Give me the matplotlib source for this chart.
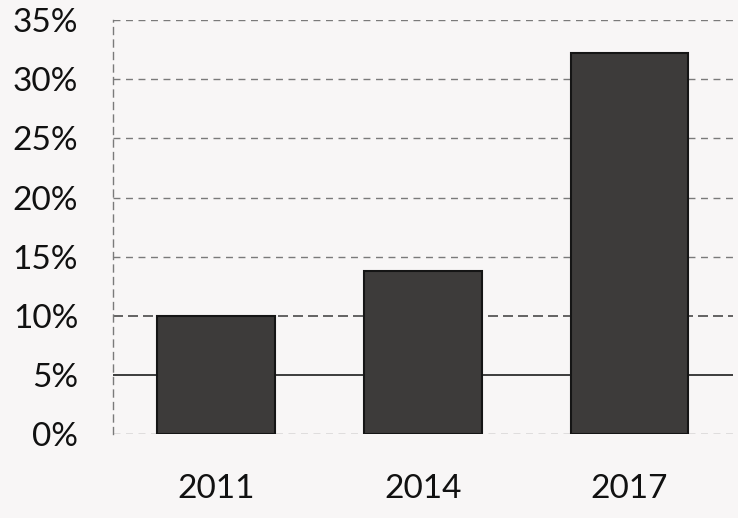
import numpy as np
import matplotlib
matplotlib.use("Agg")
import matplotlib.pyplot as plt
from matplotlib.ticker import FuncFormatter

# Data
years = ["2011", "2014", "2017"]
shares = [10.0, 13.8, 32.2]
y_ticks = [0, 5, 10, 15, 20, 25, 30, 35]

plt.rcParams['font.family'] = ['Lato', 'DejaVu Sans']

fig = plt.figure(figsize=(7.38, 5.18), dpi=100)
fig.patch.set_facecolor("#f8f6f6")
ax = fig.add_axes([0.153, 0.162, 0.84, 0.799])
ax.set_facecolor("#f8f6f6")

x = np.arange(len(years))

# Grid lines (dashed, 5% one solid and darker)
for t in y_ticks:
    if t == 5:
        ax.axhline(t, color="#2e2e2e", lw=1.3, ls="-", zorder=1)
    elif t == 10:
        ax.axhline(t, color="#4a4a4a", lw=1.2, ls=(0, (6, 3)), zorder=1)
    else:
        ax.axhline(t, color="#7a7a7a", lw=1.0, ls=(0, (5, 4)), zorder=1)

ax.bar(x, shares, width=0.57, color="#3d3b3a", edgecolor="#151515",
       linewidth=1.5, zorder=3)

ax.set_xlim(-0.5, 2.5)
ax.set_ylim(0, 35)
ax.set_yticks(y_ticks)
ax.yaxis.set_major_formatter(FuncFormatter(lambda v, p: f"{int(v)}%"))
ax.set_xticks(x)
ax.set_xticklabels(years)

ax.tick_params(axis="y", length=0, pad=25, labelsize=24, labelcolor="#111111")
ax.tick_params(axis="x", length=0, pad=29, labelsize=24, labelcolor="#111111")

for side in ["top", "right", "bottom"]:
    ax.spines[side].set_visible(False)
ax.spines["left"].set_linestyle((0, (5, 4)))
ax.spines["left"].set_color("#7a7a7a")
ax.spines["left"].set_linewidth(1.0)

fig.savefig("out.png", dpi=100, facecolor=fig.get_facecolor())
